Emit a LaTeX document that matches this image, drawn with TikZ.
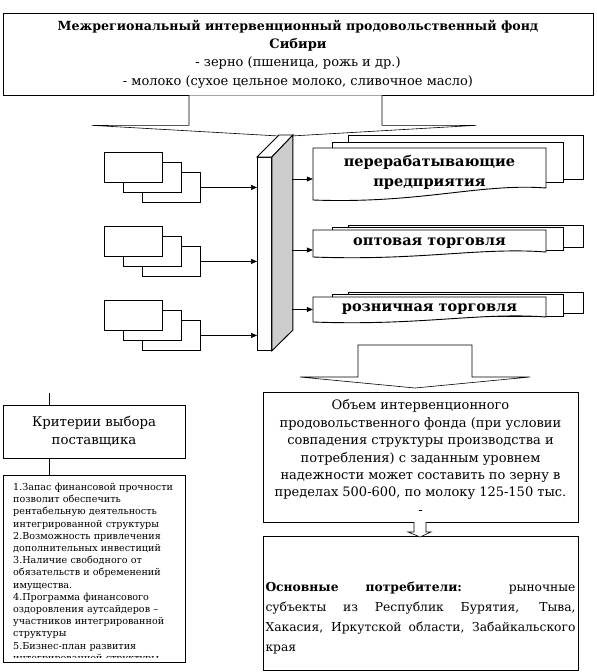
\documentclass[tikz,border=0pt]{standalone}
\usepackage{fontspec}
\setmainfont{DejaVu Serif}
\usetikzlibrary{positioning, arrows.meta}
\definecolor{panelgray}{HTML}{CDCDCD}

\tikzset{
  frame/.style={draw, line width=0.7pt, fill=white},
  sheet/.style={draw, fill=white, line width=0.9pt},
  blockarrow/.style={draw, line width=0.6pt, fill=white},
  feed/.style={-{Triangle[length=6pt,width=5pt]}, line width=0.6pt},
  sheetlabel/.style={minimum width=233pt, inner sep=0pt, align=center,
                     font=\fontsize{14.5}{20}\selectfont\bfseries},
}

\begin{document}
\begin{tikzpicture}[x=1pt, y=-1pt]
  \useasboundingbox (0,0) rectangle (597,672);

  % fund
  \node[frame, minimum width=590pt, minimum height=82pt, align=center,
        font=\fontsize{13}{18.3}\selectfont] (fund) at (298,54) {%
    {\fontsize{12.6}{18.3}\selectfont\bfseries Межрегиональный интервенционный продовольственный фонд}\\
    \textbf{Сибири}\\
    - зерно (пшеница, рожь и др.)\\
    - молоко (сухое цельное молоко, сливочное масло)};

  \draw[blockarrow] ([xshift=-109pt]fund.south) -- ++(0,30) -- ++(-97,0)
    -- ++(193,11) -- ++(191,-11) -- ++(-94,0) -- ([xshift=84pt]fund.south);

  % panel
  \node[sheet, minimum width=14pt, minimum height=193pt, inner sep=0pt,
        anchor=north west] (panel) at (257,157) {};
  \draw[sheet] (panel.north west) -- (panel.north east) -- ++(21,-22) -- ++(-14,0) -- cycle;
  \draw[sheet, fill=panelgray] (panel.north east) -- ++(21,-22) coordinate (pside)
    -- ++(0,195) -- (panel.south east) -- cycle;

  % suppliers
  \foreach \y [count=\i] in {152,226,300} {
    \node[sheet, minimum width=58pt, minimum height=30pt, inner sep=0pt,
          anchor=north west] (src\i) at (142,\y+20) {};
    \node[sheet, minimum width=58pt, minimum height=30pt, inner sep=0pt,
          anchor=north west] at (123,\y+10) {};
    \node[sheet, minimum width=58pt, minimum height=30pt, inner sep=0pt,
          anchor=north west] at (104,\y) {};
    \draw[feed] (src\i.east) -- (src\i.east -| panel.west);
  }

  % consumers of the fund
  \foreach \ft/\fb/\rs/\mt/\mb/\bt/\bb in {148/200/12/142/182/135/179,
      230/257/5/227/250/225/247, 297/322/5/294/316/292/313} {
    \draw[sheet] (348,\bt) rectangle (583,\bb);
    \draw[sheet] (332,\mt) rectangle (563,\mb);
    \draw[sheet] (313,\ft) -- (546,\ft) -- (546,{\fb-\rs})
      .. controls (480,{\fb-\rs-5}) and (420,{\fb+4}) .. (313,\fb) -- cycle;
  }
  \node[sheetlabel] (proc) at (429.5,172) {перерабатывающие\\предприятия};
  \node[sheetlabel] (whole) at (429.5,243.5) {оптовая торговля};
  \node[sheetlabel] (retail) at (429.5,309.5) {розничная торговля};

  \draw[feed] ([xshift=-21pt,yshift=-7pt]proc.west) -- ([yshift=-7pt]proc.west);
  \draw[feed] ([xshift=-21pt,yshift=-6.5pt]whole.west) -- ([yshift=-6.5pt]whole.west);
  \draw[feed] ([xshift=-21pt]retail.west) -- (retail.west);

  % volume
  \draw[blockarrow] (358,377) -- (358,345) -- (472,345) -- (472,377) -- (530,377)
    -- (415,388) -- (300,377) -- cycle;
  \node[frame, minimum width=315pt, minimum height=130pt, align=center,
        font=\fontsize{13}{17.4}\selectfont] (vol) at (420.5,457) {%
    Объем интервенционного\\
    продовольственного фонда (при условии\\
    совпадения структуры производства и\\
    потребления) с заданным уровнем\\
    надежности может составить по зерну в\\
    пределах 500-600, по молоку 125-150 тыс.\\
    -};

  \node[frame, minimum width=315pt, minimum height=134pt] (cons) at (420.5,603) {};
  \node[text width=310pt, align=justify, inner sep=0pt,
        font=\fontsize{12.3}{20}\selectfont] (constxt) at (420.5,618) {%
    \textbf{Основные потребители:} рыночные\linebreak
    субъекты из Республик Бурятия, Тыва,\linebreak
    Хакасия, Иркутской области, Забайкальского\linebreak
    края};
  \draw[blockarrow] (414,522) -- (414,532) -- (408,532) -- (420,537) -- (431,532)
    -- (426,532) -- (426,522);

  % criteria
  \coordinate (critx) at (49,0);
  \node[frame, minimum width=182pt, minimum height=53pt, align=center,
        font=\fontsize{13.3}{18}\selectfont] (crit) at (94,431.5) {Критерии выбора\\поставщика};
  \node[frame, minimum width=182pt, minimum height=187pt] (critlist) at (94,568.5) {};
  \draw[line width=0.6pt] (crit.north -| critx) -- ++(0,-12);
  \draw[line width=0.6pt] (crit.south -| critx) -- (critlist.north -| critx);
  \begin{scope}
    \clip (critlist.north west) rectangle ([yshift=5pt]critlist.south east);
    \node[anchor=north west, text width=170pt, align=left, inner sep=0pt,
          font=\fontsize{9.6}{12.2}\selectfont] (critxt) at (13,483) {%
      1.Запас финансовой прочности\\
      позволит обеспечить\\
      рентабельную деятельность\\
      интегрированной структуры\\
      2.Возможность привлечения\\
      дополнительных инвестиций\\
      3.Наличие свободного от\\
      обязательств и обременений\\
      имущества.\\
      4.Программа финансового\\
      оздоровления аутсайдеров –\\
      участников интегрированной\\
      структуры\\
      5.Бизнес-план развития\\
      интегрированной структуры};
  \end{scope}
\end{tikzpicture}
\end{document}
